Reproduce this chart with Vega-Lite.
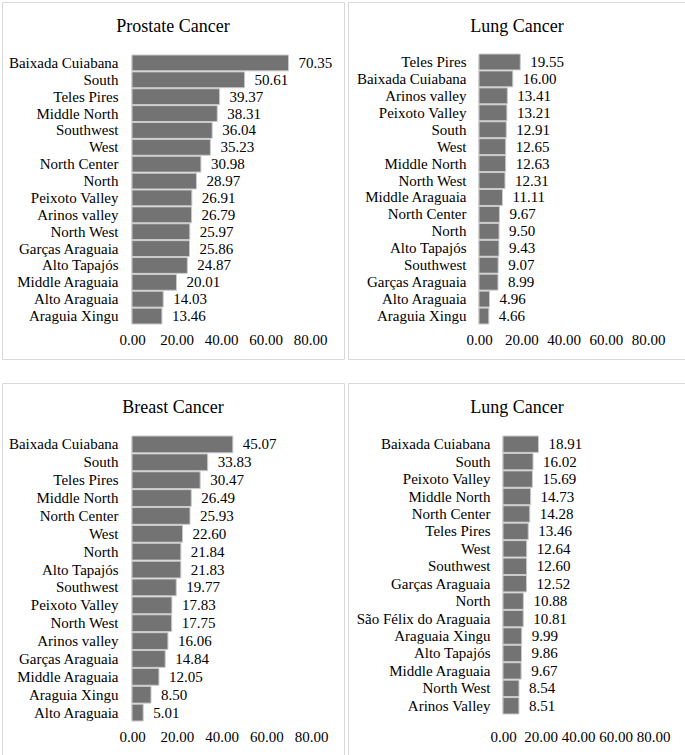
{
  "$schema": "https://vega.github.io/schema/vega-lite/v6.json",
  "background": "white",
  "padding": {"left": 1, "top": 1, "right": 1, "bottom": 1},
  "datasets": {
    "rates": [
      {"panel": "A", "region": "Baixada Cuiabana", "rate": 70.35},
      {"panel": "A", "region": "South", "rate": 50.61},
      {"panel": "A", "region": "Teles Pires", "rate": 39.37},
      {"panel": "A", "region": "Middle North", "rate": 38.31},
      {"panel": "A", "region": "Southwest", "rate": 36.04},
      {"panel": "A", "region": "West", "rate": 35.23},
      {"panel": "A", "region": "North Center", "rate": 30.98},
      {"panel": "A", "region": "North", "rate": 28.97},
      {"panel": "A", "region": "Peixoto Valley", "rate": 26.91},
      {"panel": "A", "region": "Arinos valley", "rate": 26.79},
      {"panel": "A", "region": "North West", "rate": 25.97},
      {"panel": "A", "region": "Garças Araguaia", "rate": 25.86},
      {"panel": "A", "region": "Alto Tapajós", "rate": 24.87},
      {"panel": "A", "region": "Middle Araguaia", "rate": 20.01},
      {"panel": "A", "region": "Alto Araguaia", "rate": 14.03},
      {"panel": "A", "region": "Araguia Xingu", "rate": 13.46},
      {"panel": "B", "region": "Teles Pires", "rate": 19.55},
      {"panel": "B", "region": "Baixada Cuiabana", "rate": 16.00},
      {"panel": "B", "region": "Arinos valley", "rate": 13.41},
      {"panel": "B", "region": "Peixoto Valley", "rate": 13.21},
      {"panel": "B", "region": "South", "rate": 12.91},
      {"panel": "B", "region": "West", "rate": 12.65},
      {"panel": "B", "region": "Middle North", "rate": 12.63},
      {"panel": "B", "region": "North West", "rate": 12.31},
      {"panel": "B", "region": "Middle Araguaia", "rate": 11.11},
      {"panel": "B", "region": "North Center", "rate": 9.67},
      {"panel": "B", "region": "North", "rate": 9.50},
      {"panel": "B", "region": "Alto Tapajós", "rate": 9.43},
      {"panel": "B", "region": "Southwest", "rate": 9.07},
      {"panel": "B", "region": "Garças Araguaia", "rate": 8.99},
      {"panel": "B", "region": "Alto Araguaia", "rate": 4.96},
      {"panel": "B", "region": "Araguia Xingu", "rate": 4.66},
      {"panel": "C", "region": "Baixada Cuiabana", "rate": 45.07},
      {"panel": "C", "region": "South", "rate": 33.83},
      {"panel": "C", "region": "Teles Pires", "rate": 30.47},
      {"panel": "C", "region": "Middle North", "rate": 26.49},
      {"panel": "C", "region": "North Center", "rate": 25.93},
      {"panel": "C", "region": "West", "rate": 22.60},
      {"panel": "C", "region": "North", "rate": 21.84},
      {"panel": "C", "region": "Alto Tapajós", "rate": 21.83},
      {"panel": "C", "region": "Southwest", "rate": 19.77},
      {"panel": "C", "region": "Peixoto Valley", "rate": 17.83},
      {"panel": "C", "region": "North West", "rate": 17.75},
      {"panel": "C", "region": "Arinos valley", "rate": 16.06},
      {"panel": "C", "region": "Garças Araguaia", "rate": 14.84},
      {"panel": "C", "region": "Middle Araguaia", "rate": 12.05},
      {"panel": "C", "region": "Araguia Xingu", "rate": 8.50},
      {"panel": "C", "region": "Alto Araguaia", "rate": 5.01},
      {"panel": "D", "region": "Baixada Cuiabana", "rate": 18.91},
      {"panel": "D", "region": "South", "rate": 16.02},
      {"panel": "D", "region": "Peixoto Valley", "rate": 15.69},
      {"panel": "D", "region": "Middle North", "rate": 14.73},
      {"panel": "D", "region": "North Center", "rate": 14.28},
      {"panel": "D", "region": "Teles Pires", "rate": 13.46},
      {"panel": "D", "region": "West", "rate": 12.64},
      {"panel": "D", "region": "Southwest", "rate": 12.60},
      {"panel": "D", "region": "Garças Araguaia", "rate": 12.52},
      {"panel": "D", "region": "North", "rate": 10.88},
      {"panel": "D", "region": "São Félix do Araguaia", "rate": 10.81},
      {"panel": "D", "region": "Araguaia Xingu", "rate": 9.99},
      {"panel": "D", "region": "Alto Tapajós", "rate": 9.86},
      {"panel": "D", "region": "Middle Araguaia", "rate": 9.67},
      {"panel": "D", "region": "North West", "rate": 8.54},
      {"panel": "D", "region": "Arinos Valley", "rate": 8.51}
    ]
  },
  "data": {"name": "rates"},
  "spacing": 22,
  "vconcat": [
    {
      "spacing": 2,
      "hconcat": [
        {
          "width": 342,
          "height": 357,
          "title": {"text": "Prostate Cancer", "offset": -34},
          "transform": [{"filter": "datum.panel === 'A'"}],
          "encoding": {
            "y": {
              "field": "region", "type": "nominal", "sort": "-x",
              "scale": {"range": [53, 322], "paddingInner": 0.06, "paddingOuter": 0},
              "axis": {"offset": -129, "labelPadding": 13}
            },
            "x": {
              "field": "rate", "type": "quantitative",
              "scale": {"domain": [0, 80], "range": [130, 308]},
              "axis": {"offset": -29}
            }
          },
          "layer": [
            {"mark": {"type": "bar"}},
            {"mark": {"type": "text"}, "encoding": {"text": {"field": "rate", "format": ".2f"}}}
          ]
        },
        {
          "width": 338,
          "height": 357,
          "title": {"text": "Lung Cancer", "offset": -34},
          "transform": [{"filter": "datum.panel === 'B'"}],
          "encoding": {
            "y": {
              "field": "region", "type": "nominal", "sort": "-x",
              "scale": {"range": [52, 322], "paddingInner": 0.06, "paddingOuter": 0},
              "axis": {"offset": -130, "labelPadding": 12}
            },
            "x": {
              "field": "rate", "type": "quantitative",
              "scale": {"domain": [0, 80], "range": [131, 300]},
              "axis": {"offset": -29}
            }
          },
          "layer": [
            {"mark": {"type": "bar"}},
            {"mark": {"type": "text"}, "encoding": {"text": {"field": "rate", "format": ".2f"}}}
          ]
        }
      ]
    },
    {
      "spacing": 2,
      "hconcat": [
        {
          "width": 342,
          "height": 374,
          "title": {"text": "Breast Cancer", "offset": -34},
          "transform": [{"filter": "datum.panel === 'C'"}],
          "encoding": {
            "y": {
              "field": "region", "type": "nominal", "sort": "-x",
              "scale": {"range": [53, 338], "paddingInner": 0.06, "paddingOuter": 0},
              "axis": {"offset": -129, "labelPadding": 13}
            },
            "x": {
              "field": "rate", "type": "quantitative",
              "scale": {"domain": [0, 80], "range": [130, 309]},
              "axis": {"offset": -30}
            }
          },
          "layer": [
            {"mark": {"type": "bar"}},
            {"mark": {"type": "text"}, "encoding": {"text": {"field": "rate", "format": ".2f"}}}
          ]
        },
        {
          "width": 338,
          "height": 374,
          "title": {"text": "Lung Cancer", "offset": -34},
          "transform": [{"filter": "datum.panel === 'D'"}],
          "encoding": {
            "y": {
              "field": "region", "type": "nominal", "sort": "-x",
              "scale": {"range": [53, 331], "paddingInner": 0.06, "paddingOuter": 0},
              "axis": {"offset": -154, "labelPadding": 12}
            },
            "x": {
              "field": "rate", "type": "quantitative",
              "scale": {"domain": [0, 80], "range": [155, 305]},
              "axis": {"offset": -30}
            }
          },
          "layer": [
            {"mark": {"type": "bar"}},
            {"mark": {"type": "text"}, "encoding": {"text": {"field": "rate", "format": ".2f"}}}
          ]
        }
      ]
    }
  ],
  "config": {
    "font": "Liberation Serif, Times New Roman, serif",
    "view": {"stroke": "#d9d9d9", "strokeWidth": 1},
    "bar": {"color": "#737373", "stroke": "#cbcbcb", "strokeWidth": 1},
    "text": {"align": "left", "baseline": "middle", "dx": 10, "fontSize": 15, "color": "black", "font": "Liberation Serif, Times New Roman, serif"},
    "title": {"fontSize": 18, "fontWeight": "normal", "color": "black", "anchor": "middle", "font": "Liberation Serif, Times New Roman, serif"},
    "axisY": {
      "title": null, "ticks": false, "grid": false, "domainColor": "#d9d9d9",
      "labelFont": "Liberation Serif, Times New Roman, serif", "labelFontSize": 15, "labelColor": "black"
    },
    "axisX": {
      "title": null, "ticks": false, "tickSize": 0, "grid": false, "domain": false,
      "values": [0, 20, 40, 60, 80], "format": ".2f", "labelPadding": 2,
      "labelFont": "Liberation Serif, Times New Roman, serif", "labelFontSize": 15, "labelColor": "black", "labelFlush": false
    }
  }
}
